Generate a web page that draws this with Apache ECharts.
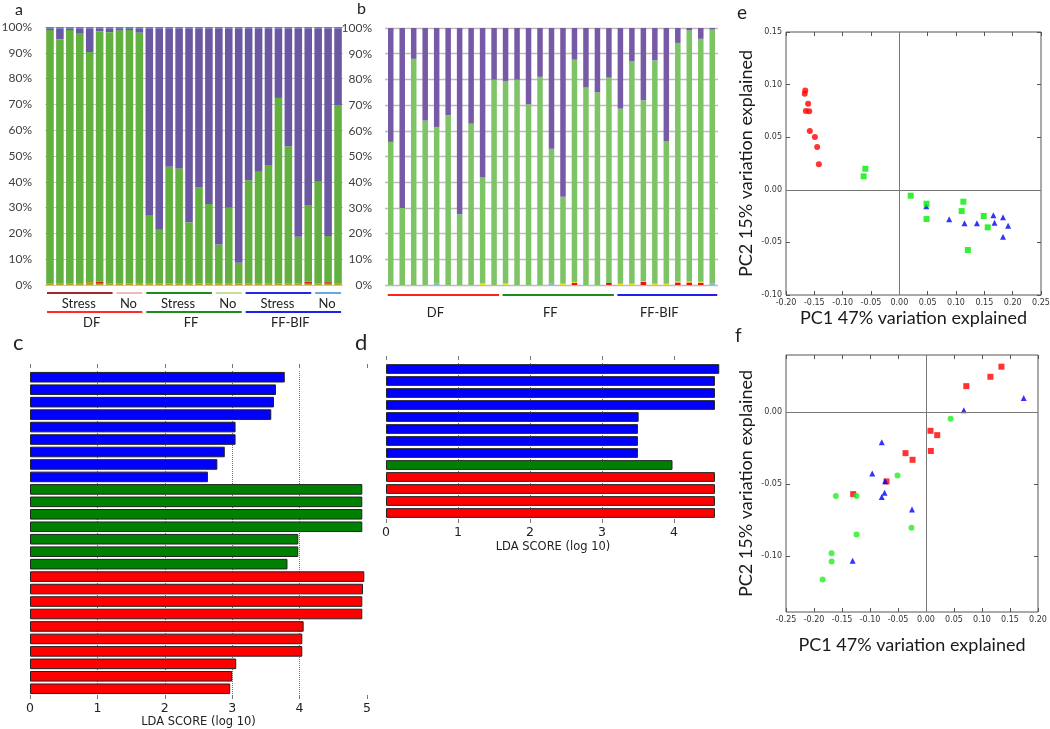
<!DOCTYPE html>
<html><head><meta charset="utf-8">
<script src="https://cdn.jsdelivr.net/npm/echarts@6/dist/echarts.min.js"></script>
<style>html,body{margin:0;padding:0;background:#fff}#c{width:1050px;height:729px}</style>
</head><body><div id="c"></div>
<script>
// ---------- Panel a (30 samples) ----------
const aSamples = ['DF-S1','DF-S2','DF-S3','DF-S4','DF-S5','DF-S6','DF-S7','DF-N1','DF-N2','DF-N3',
  'FF-S1','FF-S2','FF-S3','FF-S4','FF-S5','FF-S6','FF-S7','FF-N1','FF-N2','FF-N3',
  'BIF-S1','BIF-S2','BIF-S3','BIF-S4','BIF-S5','BIF-S6','BIF-S7','BIF-N1','BIF-N2','BIF-N3'];
const aBase   = [0.5,0.5,0.5,0.5,1.2,0.5,0.5,0.5,0.5,0.5, 0.5,0.5,0.5,0.5,0.5,0.5,0.5,0.5,0.5,0.5, 0.5,0.5,0.5,0.5,0.5,0.5,0.5,0.5,0.5,0.5];
const aRed    = [0,0,0,0,0,0.8,0,0,0,0, 0,0,0,0,0,0,0,0,0,0, 0,0,0,0,0,0,0.8,0,0.6,0];
const aGreen  = [98.3,94.7,98.3,96.9,89.1,97.0,97.5,98.2,98.3,97.3, 26.3,20.9,45.3,44.7,23.8,37.3,30.9,15.2,29.4,8.1, 40.1,43.4,46.0,72.0,53.3,18.2,29.7,39.5,17.9,69.0];
const aPurple = [0.7,4.3,0.7,2.1,9.2,1.2,1.5,0.8,0.7,1.7, 72.7,78.1,53.7,54.3,75.2,61.7,68.1,83.8,69.6,90.9, 58.9,55.6,53.0,27.0,45.7,80.8,68.5,59.5,80.5,30.0];
const aTop    = [0.5,0.5,0.5,0.5,0.5,0.5,0.5,0.5,0.5,0.5, 0.5,0.5,0.5,0.5,0.5,0.5,0.5,0.5,0.5,0.5, 0.5,0.5,0.5,0.5,0.5,0.5,0.5,0.5,0.5,0.5];
const aSubGroups  = [['Stress',0,6],['No',7,9],['Stress',10,16],['No',17,19],['Stress',20,26],['No',27,29]];
const aMainGroups = [['DF',0,9],['FF',10,19],['FF-BIF',20,29]];

// ---------- Panel b (29 samples) ----------
const bSamples = ['DF1','DF2','DF3','DF4','DF5','DF6','DF7','DF8','DF9','DF10',
  'FF1','FF2','FF3','FF4','FF5','FF6','FF7','FF8','FF9','FF10',
  'BIF1','BIF2','BIF3','BIF4','BIF5','BIF6','BIF7','BIF8','BIF9'];
const bRed       = [0,0,0,0,0,0,0,0,0,0, 0,0,0,0,0,0,0.8,0,0,0.8, 0,0,1.3,0,0,1.0,1.0,0.9,0];
const bYellow    = [0,0,0,0,0,0,0,0,0.6,0, 0.6,0,0,0,0,0.5,0.4,0,0,0, 0.5,0.5,0.3,0.5,0.5,0.4,0.4,0.4,0];
const bLightBlue = [0,0,0,0,0.6,0,0,0,0,0, 0,0,0,0,0.5,0,0,0,0,0, 0,0,0,0,0,0,0,0,0.6];
const bGreen  = [55.7,30.0,88.0,64.0,60.9,66.0,27.5,62.8,41.2,79.9, 78.8,79.9,70.3,81.0,52.5,33.8,86.5,77.0,75.0,79.9, 68.1,86.5,70.3,86.9,55.5,92.8,97.7,94.5,98.8];
const bPurple = [44.3,70.0,12.0,36.0,38.5,34.0,72.5,37.2,58.2,20.1, 20.6,20.1,29.7,19.0,47.0,65.7,12.3,23.0,25.0,19.3, 31.4,13.0,28.1,12.6,44.0,5.8,0.9,4.2,0.6];
const bMainGroups = [['DF',0,9],['FF',10,19],['FF-BIF',20,28]];
const pctTicks = ['0%','10%','20%','30%','40%','50%','60%','70%','80%','90%','100%'];

// ---------- Panel c (LDA) ----------
const cFeatures = ['c01','c02','c03','c04','c05','c06','c07','c08','c09','c10','c11','c12','c13','c14','c15','c16','c17','c18','c19','c20','c21','c22','c23','c24','c25','c26'];
const cScores = [3.78,3.65,3.62,3.58,3.05,3.05,2.89,2.78,2.64, 4.93,4.93,4.93,4.93,3.98,3.98,3.82, 4.96,4.94,4.93,4.93,4.06,4.04,4.04,3.06,3.00,2.97];
const cGroups = ['FF-BIF','FF-BIF','FF-BIF','FF-BIF','FF-BIF','FF-BIF','FF-BIF','FF-BIF','FF-BIF',
  'FF','FF','FF','FF','FF','FF','FF','DF','DF','DF','DF','DF','DF','DF','DF','DF','DF'];

// ---------- Panel d (LDA) ----------
const dFeatures = ['d01','d02','d03','d04','d05','d06','d07','d08','d09','d10','d11','d12','d13'];
const dScores = [4.63,4.57,4.57,4.57,3.51,3.50,3.50,3.50, 3.98, 4.57,4.57,4.57,4.57];
const dGroups = ['FF-BIF','FF-BIF','FF-BIF','FF-BIF','FF-BIF','FF-BIF','FF-BIF','FF-BIF','FF','DF','DF','DF','DF'];
const ldaTicks = [0,1,2,3,4,5];

// ---------- Panel e (PCA) ----------
const eDF  = [[-0.166,0.0945],[-0.167,0.0914],[-0.161,0.0819],[-0.165,0.0749],[-0.159,0.0746],[-0.158,0.0559],[-0.149,0.0502],[-0.145,0.0407],[-0.142,0.0242]];
const eFF  = [[-0.060,0.020],[-0.063,0.0128],[0.020,-0.0056],[0.048,-0.0132],[0.048,-0.0278],[0.113,-0.0113],[0.110,-0.0202],[0.149,-0.0249],[0.156,-0.0357],[0.121,-0.0572]];
const eBIF = [[0.0476,-0.0157],[0.088,-0.0281],[0.115,-0.0319],[0.137,-0.0319],[0.166,-0.0243],[0.168,-0.0313],[0.183,-0.0262],[0.192,-0.0341],[0.183,-0.0446]];

// ---------- Panel f (PCA) ----------
const fRed   = [[0.1347,0.0315],[0.115,0.0245],[0.072,0.018],[0.008,-0.013],[0.020,-0.016],[0.0086,-0.027],[-0.0366,-0.0285],[-0.024,-0.0331],[-0.0705,-0.0481],[-0.130,-0.0569]];
const fGreen = [[0.044,-0.0046],[-0.0508,-0.044],[-0.161,-0.0583],[-0.124,-0.0583],[-0.124,-0.085],[-0.0259,-0.0803],[-0.1686,-0.098],[-0.1686,-0.1037],[-0.1846,-0.1162]];
const fBlue  = [[0.1745,0.0097],[0.0675,0.0012],[-0.079,-0.021],[-0.096,-0.0426],[-0.073,-0.048],[-0.074,-0.056],[-0.079,-0.059],[-0.025,-0.0676],[-0.131,-0.1032]];
const fYTicks = [-0.10,-0.05,0.00];

// ---------- styles ----------
const groupColor = {'DF':'#ff0000','FF':'#008000','FF-BIF':'#0000ff'};
const calibri = 'Lato, "Open Sans", sans-serif';
const mpl = '"DejaVu Sans", sans-serif';
const fmt2 = v => (Math.abs(v) < 1e-9 ? 0 : v).toFixed(2);

const chart = echarts.init(document.getElementById('c'), null, {renderer:'canvas'});

function stackBar(name, data, color, x, y, stack, gap){
  return {type:'bar', name, data, stack, xAxisIndex:x, yAxisIndex:y, barCategoryGap:gap,
    itemStyle:{color}, silent:true, animation:false};
}
function pcaX(grid, min, max, name, gap, top){
  return {gridIndex:grid, type:'value', min, max, interval:0.05, position: top?'top':'bottom',
    name: top?'':name, nameLocation:'middle', nameGap:gap,
    nameTextStyle:{fontFamily:calibri, fontSize:18, color:'#1a1a1a'},
    axisLine:{show:false, onZero:false}, axisTick:{show:true, inside:true, length:4, lineStyle:{color:'#555'}},
    axisLabel:{show:!top, fontSize:8, color:'#333', fontFamily:mpl, margin:4, formatter:fmt2},
    splitLine:{show:false}};
}
function pcaY(grid, min, max, name, gap, right, custom){
  const o = {gridIndex:grid, type:'value', min, max, position: right?'right':'left',
    name: right?'':name, nameLocation:'middle', nameGap:gap, nameRotate:90,
    nameTextStyle:{fontFamily:calibri, fontSize:18, color:'#1a1a1a'},
    axisLine:{show:false, onZero:false}, axisTick:{show:true, inside:true, length:4, lineStyle:{color:'#555'}},
    axisLabel:{show:!right, fontSize:8, color:'#333', fontFamily:mpl, margin:4, formatter:fmt2},
    splitLine:{show:false}};
  if (custom){ o.axisTick.customValues = custom; o.axisLabel.customValues = custom; }
  else o.interval = 0.05;
  return o;
}
function ldaX(grid, max, top, name, gap){
  return {gridIndex:grid, type:'value', min:0, max, interval:1, position: top?'top':'bottom',
    offset: top?3:0,
    name: top?'':name, nameLocation:'middle', nameGap:gap,
    nameTextStyle:{fontFamily:mpl, fontSize:11.5, color:'#222'},
    axisLine:{show:false, onZero:false},
    axisTick:{show:true, length:4, lineStyle:{color:'#777'}, customValues: ldaTicks.filter(t=>t<=max)},
    axisLabel:{show:!top, fontFamily:mpl, fontSize:12.5, color:'#222', margin:7, customValues: ldaTicks.filter(t=>t<=max)},
    splitLine:{show:!top, showMinLine:false, showMaxLine:false, lineStyle:{type:'dotted', color:'#777', width:1}}};
}
function ldaSeries(scores, groups, x, y, gap){
  return {type:'bar', xAxisIndex:x, yAxisIndex:y, barCategoryGap:gap, silent:true, animation:false,
    data: scores.map((v,i)=>({value:v, itemStyle:{color:groupColor[groups[i]]}})),
    itemStyle:{borderColor:'#222', borderWidth:1}};
}

const option = {
  animation:false,
  backgroundColor:'#fff',
  grid:[
    {left:45, width:298, top:27, height:258, outerBoundsMode:'none'},
    {left:385, width:333, top:28, height:257, outerBoundsMode:'none'},
    {left:30, width:337, top:371, height:324, outerBoundsMode:'none'},
    {left:386, width:334, top:363, height:156, outerBoundsMode:'none'},
    {left:786, width:255, top:32, height:263, show:true, borderColor:'#555', borderWidth:1, outerBoundsMode:'none'},
    {left:786, width:252, top:355, height:257, show:true, borderColor:'#555', borderWidth:1, outerBoundsMode:'none'}
  ],
  xAxis:[
    {gridIndex:0, type:'category', data:aSamples, axisLine:{show:false}, axisTick:{show:false}, axisLabel:{show:false}},
    {gridIndex:1, type:'category', data:bSamples, axisLine:{show:false}, axisTick:{show:false}, axisLabel:{show:false}},
    ldaX(2, 5, false, 'LDA SCORE (log 10)', 20),
    ldaX(2, 5, true),
    ldaX(3, 4.64, false, 'LDA SCORE (log 10)', 22),
    ldaX(3, 4.64, true),
    pcaX(4, -0.2, 0.25, 'PC1 47% variation explained', 14, false),
    pcaX(4, -0.2, 0.25, '', 0, true),
    pcaX(5, -0.25, 0.20, 'PC1 47% variation explained', 24, false),
    pcaX(5, -0.25, 0.20, '', 0, true)
  ],
  yAxis:[
    {gridIndex:0, type:'value', min:0, max:100, interval:10, axisLine:{show:false}, axisTick:{show:false},
      axisLabel:{formatter:v=>pctTicks[Math.round(v/10)], fontFamily:calibri, fontSize:12, color:'#404040', margin:13},
      splitLine:{lineStyle:{color:'#c4c4c4', width:1}}},
    {gridIndex:1, type:'value', min:0, max:100, interval:10, axisLine:{show:false}, axisTick:{show:false},
      axisLabel:{formatter:v=>pctTicks[Math.round(v/10)], fontFamily:calibri, fontSize:12, color:'#404040', margin:13},
      splitLine:{lineStyle:{color:'#bcbcbc', width:1.3}}},
    {gridIndex:2, type:'category', data:cFeatures, inverse:true, axisLine:{show:false}, axisTick:{show:false}, axisLabel:{show:false}},
    {gridIndex:3, type:'category', data:dFeatures, inverse:true, axisLine:{show:false}, axisTick:{show:false}, axisLabel:{show:false}},
    pcaY(4, -0.1, 0.15, 'PC2 15% variation explained', 31, false),
    pcaY(4, -0.1, 0.15, '', 0, true),
    pcaY(5, -0.1387, 0.0396, 'PC2 15% variation explained', 31, false, fYTicks),
    pcaY(5, -0.1387, 0.0396, '', 0, true, fYTicks)
  ],
  series:[
    stackBar('Other', aBase, '#b7a41e', 0, 0, 'a', '24%'),
    stackBar('Proteobacteria', aRed, '#d92020', 0, 0, 'a', '24%'),
    stackBar('Firmicutes', aGreen, '#62b03f', 0, 0, 'a', '24%'),
    stackBar('Bacteroidetes', aPurple, '#6a59a2', 0, 0, 'a', '24%'),
    stackBar('Actinobacteria', aTop, '#4d7fe0', 0, 0, 'a', '24%'),

    stackBar('Proteobacteria', bRed, '#ee1010', 1, 1, 'b', '52%'),
    stackBar('Other', bYellow, '#e8e020', 1, 1, 'b', '52%'),
    stackBar('Actinobacteria', bLightBlue, '#7fb0d8', 1, 1, 'b', '52%'),
    stackBar('Firmicutes', bGreen, '#7cc466', 1, 1, 'b', '52%'),
    stackBar('Bacteroidetes', bPurple, '#775aa5', 1, 1, 'b', '52%'),

    ldaSeries(cScores, cGroups, 2, 2, '15%'),
    ldaSeries(dScores, dGroups, 4, 3, '19%'),

    {type:'scatter', name:'DF', data:eDF, xAxisIndex:6, yAxisIndex:4, symbol:'circle', symbolSize:6,
      itemStyle:{color:'#ff0000'}, silent:true,
      markLine:{silent:true, symbol:'none', label:{show:false}, animation:false,
        lineStyle:{color:'#777', type:'solid', width:1}, data:[{xAxis:0},{yAxis:0}]}},
    {type:'scatter', name:'FF-BIF', data:eBIF, xAxisIndex:6, yAxisIndex:4, symbol:'triangle', symbolSize:6,
      itemStyle:{color:'#0000ff'}, silent:true},
    {type:'scatter', name:'FF', data:eFF, xAxisIndex:6, yAxisIndex:4, symbol:'rect', symbolSize:6,
      itemStyle:{color:'#00ee00'}, silent:true},

    {type:'scatter', name:'red', data:fRed, xAxisIndex:8, yAxisIndex:6, symbol:'rect', symbolSize:6,
      itemStyle:{color:'#ff0000'}, silent:true,
      markLine:{silent:true, symbol:'none', label:{show:false}, animation:false,
        lineStyle:{color:'#777', type:'solid', width:1}, data:[{xAxis:0},{yAxis:0}]}},
    {type:'scatter', name:'green', data:fGreen, xAxisIndex:8, yAxisIndex:6, symbol:'circle', symbolSize:6,
      itemStyle:{color:'#22ee22'}, silent:true},
    {type:'scatter', name:'blue', data:fBlue, xAxisIndex:8, yAxisIndex:6, symbol:'triangle', symbolSize:6,
      itemStyle:{color:'#0000ff'}, silent:true}
  ]
};
chart.setOption(option);

// ---------- group brackets & labels, positioned from the category axes ----------
const aSubColors  = ['#a3282b','#f2b9b9','#1f8a1f','#c6dc9a','#2626ee','#6aa6e0'];
const aMainColors = ['#ff2a2a','#1f8a1f','#2020ee'];
const bMainColors = ['#ff2020','#1f8a1f','#2020ee'];
const gfx = [];
function hline(x1,x2,y,color){ gfx.push({type:'line', silent:true, shape:{x1,y1:y,x2,y2:y}, style:{stroke:color, lineWidth:2}}); }
function txt(x,y,text,size,family,align){ gfx.push({type:'text', silent:true, x, y,
  style:{text, fontSize:size, fontFamily:family||calibri, fill:'#222', align:align||'center', verticalAlign:'middle'}}); }
const ax = (idx, name) => chart.convertToPixel({xAxisIndex:idx}, name);

aSubGroups.forEach((g,i)=>{
  const x1 = ax(0, aSamples[g[1]]) - 3, x2 = ax(0, aSamples[g[2]]) + 3;
  hline(x1, x2, 293, aSubColors[i]);
  txt((x1+x2)/2 - 1, 304, g[0], 13);
});
aMainGroups.forEach((g,i)=>{
  const x1 = ax(0, aSamples[g[1]]) - 3, x2 = ax(0, aSamples[g[2]]) + 3;
  hline(x1, x2, 312, aMainColors[i]);
  txt((x1+x2)/2 - 3, 323, g[0], 13);
});
bMainGroups.forEach((g,i)=>{
  const x1 = ax(1, bSamples[g[1]]) - 3, x2 = ax(1, bSamples[g[2]]) + 5;
  hline(x1, x2, 295, bMainColors[i]);
  txt((x1+x2)/2 - 8, 313, g[0], 13);
});
txt(15, 10, 'a', 16, calibri, 'left');
txt(357, 9, 'b', 16, calibri, 'left');
txt(13, 343, 'c', 22, calibri, 'left');
txt(355, 343, 'd', 22, calibri, 'left');
txt(737, 13, 'e', 19, calibri, 'left');
txt(735, 336, 'f', 19, calibri, 'left');
chart.setOption({graphic: gfx});
</script>
</body></html>
